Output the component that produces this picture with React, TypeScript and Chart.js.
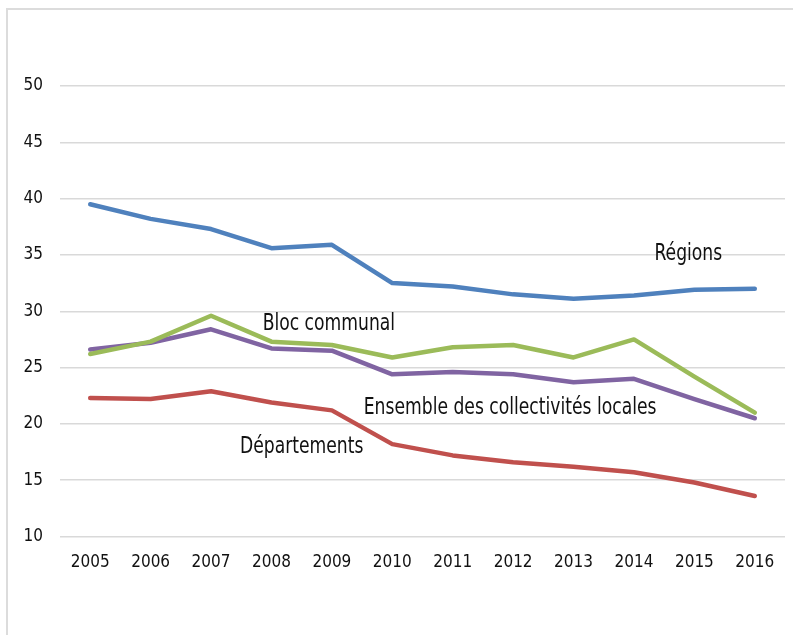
import React, { useEffect, useRef } from "react";
import { Chart, registerables } from "chart.js";

Chart.register(...registerables);

const years = ["2005", "2006", "2007", "2008", "2009", "2010", "2011", "2012", "2013", "2014", "2015", "2016"];
const regions = [39.5, 38.2, 37.3, 35.6, 35.9, 32.5, 32.2, 31.5, 31.1, 31.4, 31.9, 32.0];
const blocCommunal = [26.2, 27.3, 29.6, 27.3, 27.0, 25.9, 26.8, 27.0, 25.9, 27.5, 24.2, 21.0];
const ensemble = [26.6, 27.2, 28.4, 26.7, 26.5, 24.4, 24.6, 24.4, 23.7, 24.0, 22.2, 20.5];
const departements = [22.3, 22.2, 22.9, 21.9, 21.2, 18.2, 17.2, 16.6, 16.2, 15.7, 14.8, 13.6];

const seriesNames = ["Régions", "Bloc communal", "Ensemble des collectivités locales", "Départements"];
const seriesColors = ["#4F81BD", "#9BBB59", "#8064A2", "#C0504D"];

// annotation label anchors in data coordinates (category index, value)
const labelX = [9.9, 3.95, 6.95, 3.5];
const labelY = [35.1, 28.9, 21.4, 17.9];

const FONT = "'DejaVu Sans Condensed', 'Open Sans', sans-serif";

const labelsPlugin = {
  id: "inlineLabels",
  afterDatasetsDraw(chart: any) {
    const ctx = chart.ctx;
    const xs = chart.scales.x;
    const ys = chart.scales.y;
    const sx = 0.83;
    seriesNames.forEach((name, i) => {
      const px = xs.getPixelForValue(labelX[i]);
      const py = ys.getPixelForValue(labelY[i]);
      ctx.save();
      ctx.translate(px, py);
      ctx.scale(sx, 1);
      ctx.font = `23px ${FONT}`;
      ctx.fillStyle = "#111";
      ctx.textAlign = "center";
      ctx.textBaseline = "middle";
      ctx.fillText(name, 0, 0);
      ctx.restore();
    });
  },
};

export default function App() {
  const ref = useRef<HTMLCanvasElement>(null);
  useEffect(() => {
    if (!ref.current) return;
    const data = [regions, blocCommunal, ensemble, departements];
    const chart = new Chart(ref.current, {
      type: "line",
      data: {
        labels: years,
        datasets: seriesNames.map((n, i) => ({
          label: n,
          data: data[i],
          borderColor: seriesColors[i],
          backgroundColor: seriesColors[i],
          borderWidth: 4.5,
          pointRadius: 0,
          tension: 0,
          borderCapStyle: "round" as const,
          borderJoinStyle: "round" as const,
        })),
      },
      options: {
        responsive: false,
        animation: false,
        layout: { padding: { left: 0, right: 8, top: 86, bottom: 0 } },
        plugins: { legend: { display: false }, tooltip: { enabled: false } },
        scales: {
          x: {
            offset: true,
            grid: { display: false, drawTicks: false },
            border: { display: false },
            ticks: { color: "#111", font: { family: FONT, size: 17 }, padding: 16, maxRotation: 0 },
            afterFit: (s: any) => { s.height = 98.5; },
          },
          y: {
            min: 10,
            max: 50,
            grid: { color: "#d9d9d9", lineWidth: 1.5, drawTicks: false },
            border: { display: false },
            ticks: { stepSize: 5, color: "#111", font: { family: FONT, size: 17 }, padding: 17 },
            afterFit: (s: any) => { s.width = 60; },
          },
        },
      },
      plugins: [labelsPlugin],
    });
    return () => chart.destroy();
  }, []);

  return (
    <div style={{ position: "fixed", left: 0, top: 0, width: 793, height: 635, overflow: "hidden", background: "#fff" }}>
      <div style={{ position: "absolute", left: 6, top: 8, width: 900, height: 800, border: "2px solid #dcdcdc" }} />
      <canvas ref={ref} width={793} height={635} style={{ position: "absolute", left: 0, top: 0, width: 793, height: 635 }} />
    </div>
  );
}
